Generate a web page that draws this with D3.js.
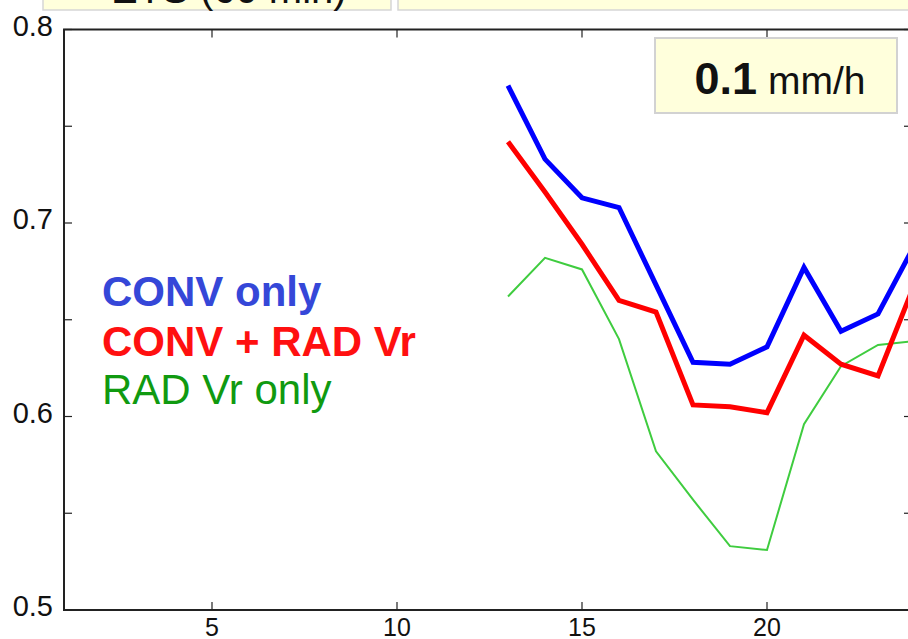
<!DOCTYPE html>
<html>
<head>
<meta charset="utf-8">
<script src="https://cdn.jsdelivr.net/npm/d3@7"></script>
<style>
  html, body { margin: 0; padding: 0; background: #fff; }
  svg { display: block; font-family: "Liberation Sans", Arial, sans-serif; }
</style>
</head>
<body>
<svg id="chart" width="908" height="639"></svg>
<script>
// Forecast hour and skill score for each experiment
const hours = [13, 14, 15, 16, 17, 18, 19, 20, 21, 22, 23, 24];
const convOnly = [0.771, 0.733, 0.713, 0.708, 0.668, 0.628, 0.627, 0.636, 0.677, 0.644, 0.653, 0.689];
const convRad  = [0.742, 0.716, 0.689, 0.660, 0.654, 0.606, 0.605, 0.602, 0.642, 0.627, 0.621, 0.669];
const radOnly  = [0.662, 0.682, 0.676, 0.640, 0.582, 0.557, 0.533, 0.531, 0.596, 0.626, 0.637, 0.639];

const xTicks = [5, 10, 15, 20];
const yMajor = [0.5, 0.6, 0.7, 0.8];
const yMinor = [0.55, 0.65, 0.75];
const threshold = "0.1";
const unit = "mm/h";
const legendLabels = ["CONV only", "CONV + RAD Vr", "RAD Vr only"];
const panelTitle = "ETS (60 min)";

const svg = d3.select("#chart");
const plotL = 64, plotR = 912, plotT = 29.5, plotB = 610;

const x = d3.scaleLinear().domain([1, 24]).range([plotL, 915]);
const y = d3.scaleLinear().domain([0.5, 0.8]).range([plotB, plotT]);

// Header panels of the figure (partly cut off at the top)
const hdr = svg.append("g");
hdr.append("rect").attr("x", 43).attr("y", -40).attr("width", 348).attr("height", 50)
  .attr("fill", "#ffffdc").attr("stroke", "#d6d6d6").attr("stroke-width", 1.5);
hdr.append("rect").attr("x", 398).attr("y", -40).attr("width", 540).attr("height", 50)
  .attr("fill", "#ffffdc").attr("stroke", "#d6d6d6").attr("stroke-width", 1.5);
hdr.append("text").attr("x", 111).attr("y", 3).attr("font-size", 40)
  .attr("fill", "#111").text(panelTitle);

// Plot clip
svg.append("defs").append("clipPath").attr("id", "plotClip")
  .append("rect").attr("x", plotL).attr("y", plotT).attr("width", plotR - plotL).attr("height", plotB - plotT);

// Frame with inward ticks on all sides
const frame = svg.append("g").attr("stroke", "#222").attr("stroke-width", 2).attr("fill", "none");
frame.append("rect").attr("x", plotL).attr("y", plotT).attr("width", plotR - plotL).attr("height", plotB - plotT);

const tickLen = 8;
yMajor.concat(yMinor).forEach(v => {
  frame.append("line").attr("x1", plotL).attr("x2", plotL + tickLen).attr("y1", y(v)).attr("y2", y(v)).attr("stroke-width", 1.2);
  frame.append("line").attr("x1", plotR).attr("x2", plotR - tickLen).attr("y1", y(v)).attr("y2", y(v)).attr("stroke-width", 1.2);
});
xTicks.forEach(v => {
  frame.append("line").attr("x1", x(v)).attr("x2", x(v)).attr("y1", plotB).attr("y2", plotB - tickLen).attr("stroke-width", 1.2);
  frame.append("line").attr("x1", x(v)).attr("x2", x(v)).attr("y1", plotT).attr("y2", plotT + tickLen).attr("stroke-width", 1.2);
});

// Tick labels
const labels = svg.append("g").attr("fill", "#111");
yMajor.forEach(v => {
  labels.append("text").attr("x", 53).attr("y", y(v) + 6).attr("font-size", 29)
    .attr("text-anchor", "end").text(d3.format(".1f")(v));
});
xTicks.forEach(v => {
  labels.append("text").attr("x", x(v)).attr("y", 636).attr("font-size", 25)
    .attr("text-anchor", "middle").text(v);
});

// Series lines
const line = d3.line().x((d, i) => x(hours[i])).y(d => y(d));
const lines = svg.append("g").attr("clip-path", "url(#plotClip)").attr("fill", "none")
  .attr("stroke-linejoin", "miter");
lines.append("path").datum(radOnly).attr("d", line).attr("stroke", "#3fcc3f").attr("stroke-width", 2);
lines.append("path").datum(convRad).attr("d", line).attr("stroke", "#ff0000").attr("stroke-width", 5);
lines.append("path").datum(convOnly).attr("d", line).attr("stroke", "#0000ff").attr("stroke-width", 5);

// Legend
const legend = svg.append("g").attr("font-size", 42);
legend.append("text").attr("x", 102).attr("y", 306).attr("font-weight", "bold")
  .attr("fill", "#3547d8").text(legendLabels[0]);
legend.append("text").attr("x", 102).attr("y", 356).attr("font-weight", "bold")
  .attr("fill", "#ff1010").text(legendLabels[1]);
legend.append("text").attr("x", 102).attr("y", 404)
  .attr("fill", "#109a10").text(legendLabels[2]);

// Threshold box
const box = svg.append("g");
box.append("rect").attr("x", 655).attr("y", 38).attr("width", 242).attr("height", 75)
  .attr("fill", "#ffffdc").attr("stroke", "#d2d2d2").attr("stroke-width", 2);
const bt = box.append("text").attr("x", 780).attr("y", 94).attr("text-anchor", "middle")
  .attr("fill", "#111");
bt.append("tspan").attr("font-weight", "bold").attr("font-size", 45).text(threshold);
bt.append("tspan").attr("font-size", 39).text(" " + unit);
</script>
</body>
</html>
